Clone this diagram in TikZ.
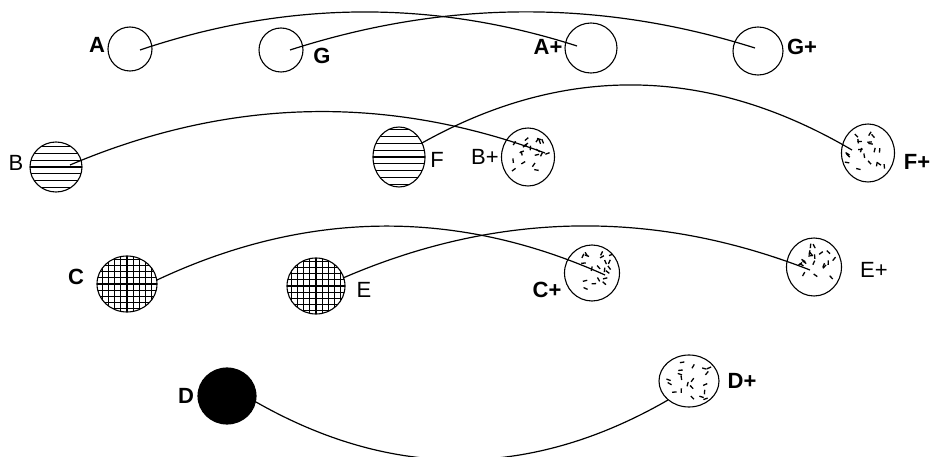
\documentclass[tikz,border=0pt]{standalone}
\usepackage{fontspec}
\setmainfont{Liberation Sans}
\usetikzlibrary{shapes.geometric}
\begin{document}
\begin{tikzpicture}[x=1pt,y=-1pt,
  ball/.style={ellipse, draw, line width=1.1pt, inner sep=0pt},
  hlines/.style={path picture={\foreach \k in {-4,...,4}{\draw[line width=1.2pt] ([shift={(-35pt,\k*6.8pt)}]path picture bounding box.center) -- ++(70pt,0pt);}}},
  crosshatch/.style={path picture={\foreach \k in {-5,...,5}{\draw[line width=1.2pt] ([shift={(-35pt,\k*6.2pt)}]path picture bounding box.center) -- ++(70pt,0pt); \draw[line width=1.2pt] ([shift={(\k*6.2pt,-35pt)}]path picture bounding box.center) -- ++(0pt,70pt);}}},
  speckle/.style={path picture={\pgfmathsetseed{#1}\foreach \k in {1,...,20}{\pgfmathsetmacro\px{rand*19}\pgfmathsetmacro\py{rand*19}\pgfmathsetmacro\pa{rnd*180}\draw[line width=1.3pt] ([shift={(\px pt,\py pt)}]path picture bounding box.center) -- ++(\pa:4.5pt);}}},
  lab/.style={font=\fontsize{22}{22}\selectfont, inner sep=0pt},
  blab/.style={lab, font=\fontsize{22}{22}\selectfont\bfseries},
  conn/.style={line width=1.2pt}]
\clip (0,0) rectangle (937,457);
\fill[white] (0,0) rectangle (937,457);
% row 1
\node[ball, minimum width=44pt, minimum height=44pt] (A) at (130,49) {};
\node[ball, minimum width=44pt, minimum height=44pt] (G) at (281,50) {};
\node[ball, minimum width=52pt, minimum height=50pt] (Ap) at (591,48) {};
\node[ball, minimum width=50pt, minimum height=48pt] (Gp) at (758,51) {};
\node[blab] (lA) at (97,45) {A};
\node[blab] (lG) at (322,56) {G};
\node[blab] (lAp) at (548,47) {A+};
\node[blab] (lGp) at (802,47) {G+};
% row 2
\node[ball, hlines, minimum width=52pt, minimum height=50pt] (B) at (56,167) {};
\node[ball, hlines, minimum width=52pt, minimum height=60pt] (F) at (399,157) {};
\node[ball, speckle=11, minimum width=53pt, minimum height=58pt] (Bp) at (528,157) {};
\node[ball, speckle=23, minimum width=53pt, minimum height=58pt] (Fp) at (868,153) {};
\node[lab] (lB) at (16,163) {B};
\node[lab] (lF) at (437,160) {F};
\node[lab] (lBp) at (485,157) {B+};
\node[blab] (lFp) at (917,162) {F+};
% row 3
\node[ball, crosshatch, minimum width=60pt, minimum height=56pt] (C) at (127,284) {};
\node[ball, crosshatch, minimum width=58pt, minimum height=56pt] (E) at (316,286) {};
\node[ball, speckle=37, minimum width=55pt, minimum height=56pt] (Cp) at (592,273) {};
\node[ball, speckle=41, minimum width=55pt, minimum height=58pt] (Ep) at (814,267) {};
\node[blab] (lC) at (76,277) {C};
\node[lab] (lE) at (364,290) {E};
\node[blab] (lCp) at (547,290) {C+};
\node[lab] (lEp) at (874,270) {E+};
% row 4
\node[ball, fill=black, minimum width=58pt, minimum height=56pt] (D) at (227,396) {};
\node[ball, speckle=53, minimum width=60pt, minimum height=52pt] (Dp) at (689,381) {};
\node[blab] (lD) at (186,396) {D};
\node[blab] (lDp) at (742,381) {D+};
% connectors
\draw[conn] ([shift={(10,1)}]A.center) .. controls (285,1) and (431,-1) .. ([shift={(-14,-2)}]Ap.center);
\draw[conn] ([shift={(9,0)}]G.center) .. controls (445,0) and (600,-1) .. ([shift={(-3,-3)}]Gp.center);
\draw[conn] ([shift={(14,-2)}]B.center) .. controls (228,98) and (386,94) .. ([shift={(17,-4)}]Bp.center);
\draw[conn] ([shift={(23,-14)}]F.center) .. controls (565,63) and (709,66) .. ([shift={(-16,-3)}]Fp.center);
\draw[conn] ([shift={(30,-4)}]C.center) .. controls (306,210) and (456,208) .. ([shift={(13,2)}]Cp.center);
\draw[conn] ([shift={(27,-8)}]E.center) .. controls (498,211) and (654,209) .. ([shift={(-4,3)}]Ep.center);
\draw[conn] ([shift={(29,6)}]D.center) .. controls (393,480) and (531,479) .. ([shift={(-21,19)}]Dp.center);
\end{tikzpicture}
\end{document}
